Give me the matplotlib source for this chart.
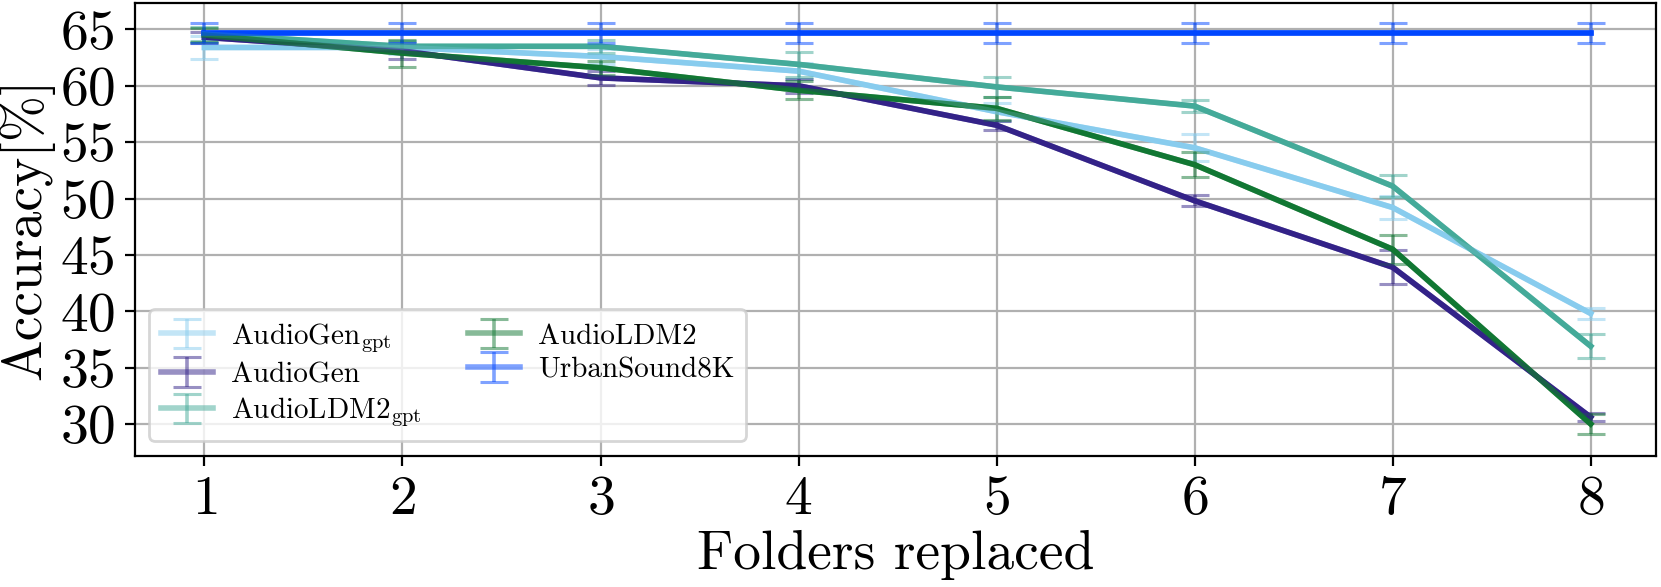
import matplotlib
matplotlib.use("Agg")
import matplotlib.pyplot as plt
import numpy as np

plt.rcParams['font.family'] = 'serif'
plt.rcParams['font.serif'] = ['cmr10']
plt.rcParams['mathtext.fontset'] = 'cm'
plt.rcParams['axes.formatter.use_mathtext'] = True

folders = [1, 2, 3, 4, 5, 6, 7, 8]

labels = [r'AudioGen$_{\mathrm{gpt}}$', 'AudioGen', r'AudioLDM2$_{\mathrm{gpt}}$', 'AudioLDM2', 'UrbanSound8K']
colors = ['#88CCEE', '#332288', '#44AA99', '#117733', '#0046FF']

audiogen_gpt = [63.4, 63.4, 62.6, 61.3, 57.7, 54.5, 49.2, 39.8]
audiogen_gpt_err = [1.0, 0.6, 0.7, 0.7, 0.8, 1.2, 1.0, 0.5]
audiogen = [64.3, 63.1, 60.7, 60.0, 56.5, 49.8, 43.9, 30.6]
audiogen_err = [0.5, 0.7, 0.6, 0.6, 0.4, 0.5, 1.5, 0.35]
audioldm2_gpt = [64.6, 63.5, 63.5, 61.9, 59.9, 58.2, 51.1, 36.9]
audioldm2_gpt_err = [0.6, 0.5, 0.6, 1.1, 0.9, 0.5, 1.0, 1.05]
audioldm2 = [64.5, 62.9, 61.6, 59.6, 58.0, 53.0, 45.5, 30.0]
audioldm2_err = [0.6, 1.2, 0.6, 0.8, 1.0, 1.1, 1.3, 0.9]
urbansound = [64.7, 64.7, 64.7, 64.7, 64.7, 64.7, 64.7, 64.7]
urbansound_err = [0.9, 0.9, 0.9, 0.9, 0.9, 0.9, 0.9, 0.9]

series = [(audiogen_gpt, audiogen_gpt_err), (audiogen, audiogen_err),
          (audioldm2_gpt, audioldm2_gpt_err), (audioldm2, audioldm2_err),
          (urbansound, urbansound_err)]

fig = plt.figure(figsize=(8.305, 2.935), dpi=200)
ax = fig.add_axes([0.081, 0.224, 0.916, 0.771])

for (y, e), c, lab in zip(series, colors, labels):
    ax.plot(folders, y, color=c, lw=2.0, zorder=3)
    ax.errorbar(folders, y, yerr=e, color=c, alpha=0.5, lw=2.0, elinewidth=1.3,
                capsize=5, capthick=1.1, label=lab, zorder=3)

ax.set_xlim(0.647, 8.33)
ax.set_ylim(27.2, 67.35)
ax.set_xticks(folders)
ax.set_yticks([30, 35, 40, 45, 50, 55, 60, 65])
ax.tick_params(labelsize=20)
ax.grid(True, color='#b0b0b0', lw=0.8)
ax.set_axisbelow(True)
ax.set_xlabel('Folders replaced', fontsize=20, labelpad=2)
ax.set_ylabel('Accuracy[%]', fontsize=20, labelpad=2)
ax.legend(loc='lower left', ncol=2, fontsize=10.5, handlelength=1.8,
          handletextpad=0.6, columnspacing=1.6, borderaxespad=0.5,
          labelspacing=0.25)

fig.savefig('out.png', dpi=200)
